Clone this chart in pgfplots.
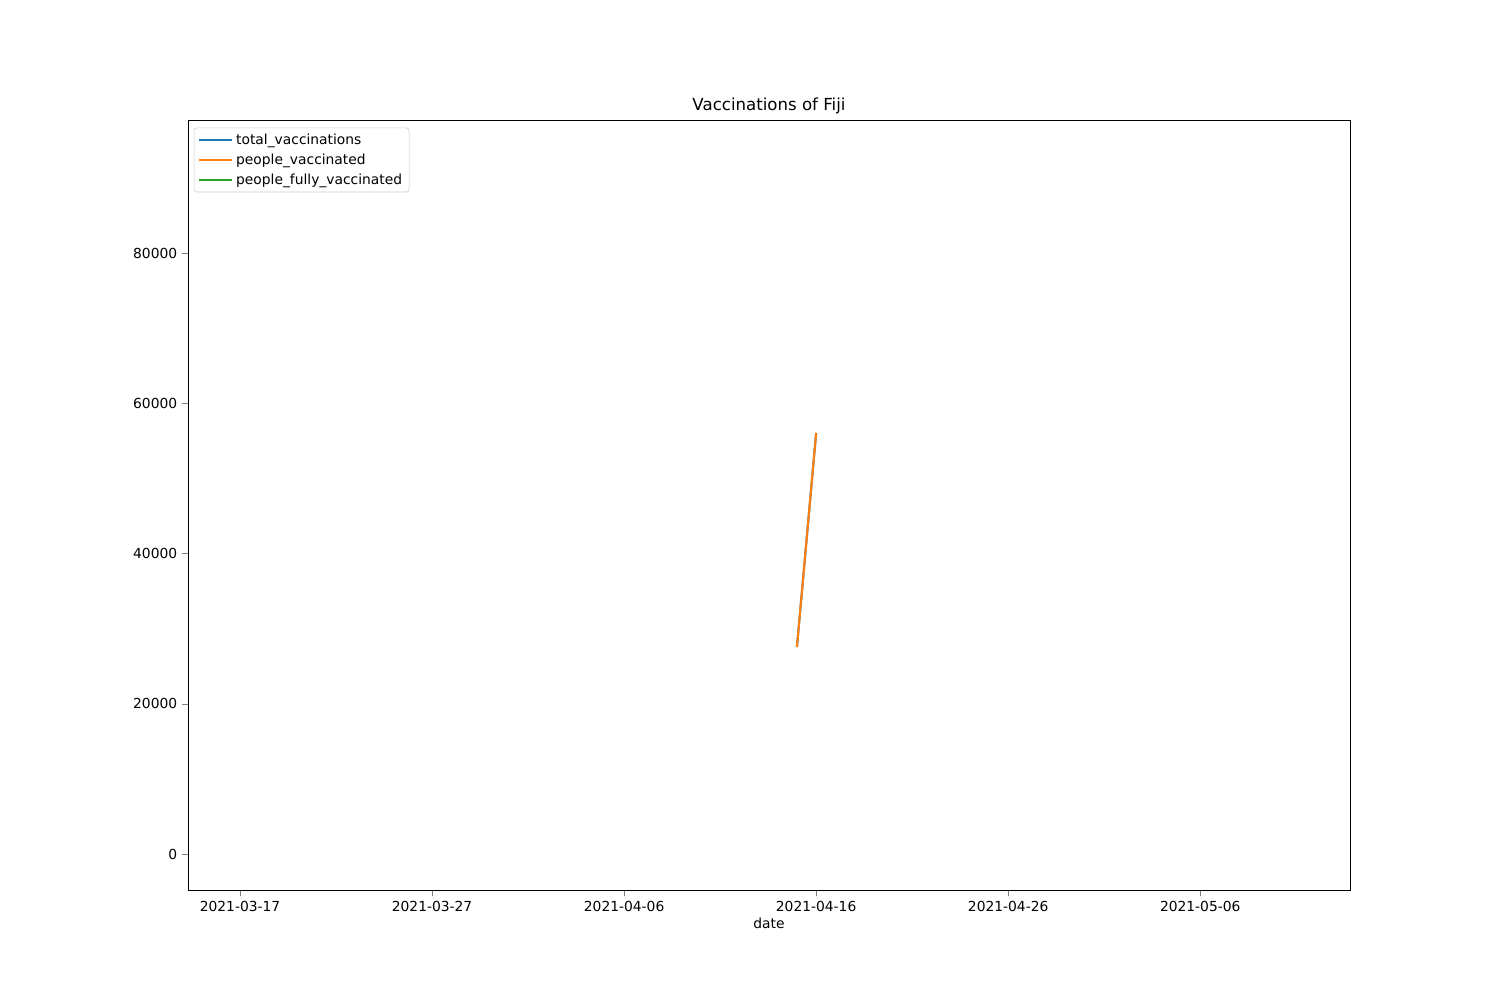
\documentclass[border=0pt]{standalone}
\usepackage{fontspec}
\setmainfont{DejaVu Sans}
\usepackage{pgfplots}
\pgfplotsset{compat=1.18}
\definecolor{c1}{RGB}{31,119,180}
\definecolor{c2}{RGB}{255,127,14}
\definecolor{c3}{RGB}{44,160,44}
\begin{document}
\begin{tikzpicture}
\useasboundingbox (0,0) rectangle (15in,10in);
\begin{axis}[at={(1.88in,1.1in)},anchor=south west,scale only axis,
width=11.62in,height=7.7in,
xmin=-2.71,xmax=57.8,ymin=-4792,ymax=97704,
xtick={0,10,20,30,40,50},
xticklabels={2021-03-17,2021-03-27,2021-04-06,2021-04-16,2021-04-26,2021-05-06},
ytick={0,20000,40000,60000,80000},
scaled y ticks=false,
yticklabel style={/pgf/number format/1000 sep=},
/pgf/number format/assume math mode=true,
tick label style={font=\fontsize{10}{12}\selectfont},
tick align=outside, tick pos=left,
xlabel={date}, xlabel style={font=\fontsize{10}{12}\selectfont,yshift=2pt},
title={Vaccinations of Fiji}, title style={font=\fontsize{12}{14}\selectfont,yshift=-5pt},
legend style={at={(0.005,0.99)},anchor=north west,font=\fontsize{10}{15}\selectfont,draw=black!20,rounded corners=2pt,row sep=1.5pt},
legend image post style={xscale=1.4},
legend cell align=left,
]
\addplot[color=c1,line width=1.5pt] coordinates {(29,27554) (30,56040)};
\addlegendentry{total\_vaccinations}
\addplot[color=c2,line width=1.5pt] coordinates {(29,27554) (30,56040)};
\addlegendentry{people\_vaccinated}
\addlegendimage{color=c3,line width=1.5pt}
\addlegendentry{people\_fully\_vaccinated}
\end{axis}
\end{tikzpicture}
\end{document}
